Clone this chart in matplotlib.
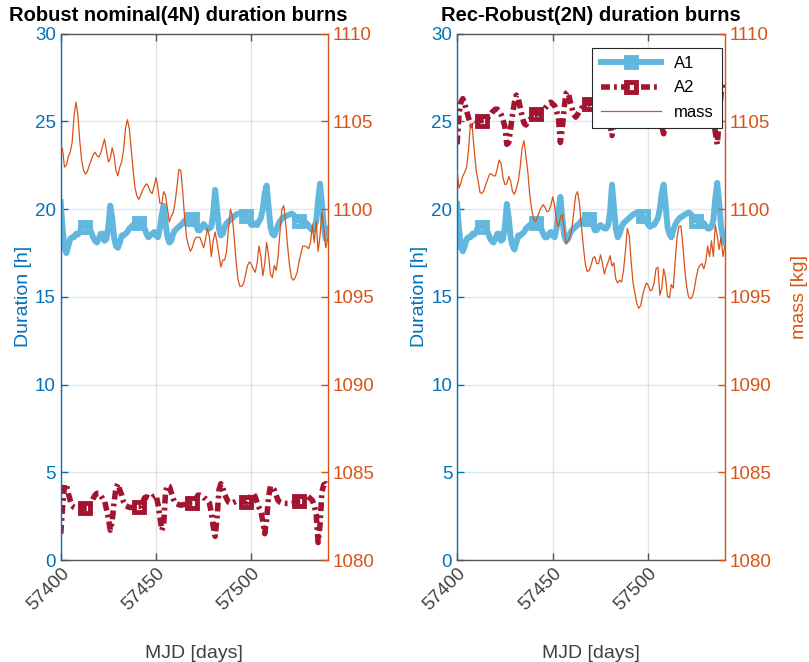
import numpy as np
import matplotlib.pyplot as plt

plt.rcParams['font.family'] = ['Liberation Sans', 'DejaVu Sans']

# daily samples, MJD 57400 .. 57540
mjd = np.arange(57400, 57541)

# --- Robust nominal (4N) ---
a1_nom = [20.4, 18.9, 17.8, 17.5, 17.9, 18.3, 18.4, 18.4, 18.6, 18.55,
          18.7, 19.0, 19.0, 19.0, 19.0, 18.9, 18.7, 18.4, 18.2, 18.1,
          18.3, 18.6, 18.6, 18.2, 18.3, 19.0, 20.2, 19.5, 18.4, 17.9,
          17.8, 18.1, 18.5, 18.5, 18.6, 18.7, 18.9, 19.0, 19.1, 19.15,
          19.2, 19.2, 19.2, 19.1, 18.9, 18.6, 18.4, 18.5, 18.6, 18.7,
          18.5, 18.4, 18.9, 19.7, 20.2, 19.2, 18.4, 18.1, 18.2, 18.6,
          18.8, 18.9, 19.0, 19.1, 19.2, 19.35, 19.4, 19.45, 19.45, 19.45,
          19.4, 19.1, 18.8, 18.8, 19.0, 19.15, 19.0, 18.9, 18.9, 19.0,
          19.8, 21.1, 20.0, 18.9, 18.5, 18.6, 19.0, 19.2, 19.3, 19.4,
          19.5, 19.6, 19.7, 19.75, 19.75, 19.75, 19.7, 19.6, 19.55, 19.3,
          19.1, 19.1, 19.2, 19.1, 19.3, 19.5, 20.0, 20.9, 21.35, 20.2,
          19.0, 18.6, 18.5, 18.8, 19.1, 19.3, 19.45, 19.55, 19.6, 19.65,
          19.7, 19.75, 19.7, 19.55, 19.45, 19.35, 19.3, 19.3, 19.25, 19.2,
          19.05, 18.9, 18.8, 19.0, 19.3, 20.5, 21.45, 20.3, 19.0, 18.3, 18.9]

a2_nom = [1.5, 3.0, 4.3, 4.3, 3.8, 3.4, 3.1, 3.0, 2.95, 3.0,
          3.0, 2.95, 2.95, 2.95, 2.95, 3.1, 3.25, 3.5, 3.7, 3.8,
          3.8, 3.7, 3.5, 3.4, 2.9, 2.4, 1.7, 2.2, 3.3, 4.1,
          4.35, 4.0, 3.7, 3.3, 3.1, 3.05, 3.0, 3.0, 3.0, 3.0,
          3.05, 3.05, 3.1, 3.3, 3.55, 3.6, 3.55, 3.5, 3.55, 3.65,
          3.7, 3.2, 2.5, 1.7, 2.0, 3.9, 4.25, 4.2, 3.85, 3.5,
          3.25, 3.2, 3.15, 3.13, 3.15, 3.17, 3.2, 3.2, 3.23, 3.23,
          3.25, 3.5, 3.7, 3.7, 3.65, 3.55, 3.5, 3.4, 3.25, 2.7,
          1.9, 1.35, 2.4, 4.0, 4.35, 4.1, 3.75, 3.5, 3.3, 3.25,
          3.25, 3.3, 3.35, 3.4, 3.42, 3.4, 3.35, 3.3, 3.3, 3.5,
          3.7, 3.8, 3.6, 3.3, 3.0, 2.8, 2.2, 1.5, 2.3, 3.6,
          4.2, 4.15, 4.0, 3.7, 3.4, 3.3, 3.25, 3.23, 3.23, 3.23,
          3.23, 3.23, 3.25, 3.28, 3.32, 3.35, 3.35, 3.45, 3.6, 3.7,
          3.6, 3.5, 3.4, 3.1, 2.6, 1.0, 2.0, 3.9, 4.3, 4.35, 4.2]

mass_nom = [1103.7, 1103.4, 1102.4, 1102.5, 1103.0, 1103.25, 1103.8, 1105.3, 1106.1, 1105.4,
            1103.9, 1102.8, 1102.2, 1102.0, 1102.15, 1102.5, 1102.8, 1103.1, 1103.25, 1103.05,
            1102.97, 1103.2, 1103.6, 1104.0, 1103.35, 1102.7, 1102.87, 1103.5, 1103.06, 1102.2,
            1101.9, 1102.4, 1102.7, 1103.4, 1104.6, 1105.1, 1104.6, 1103.4, 1102.2, 1101.2,
            1100.75, 1100.56, 1100.8, 1101.1, 1101.3, 1101.45, 1101.3, 1101.0, 1100.9, 1101.3,
            1101.8, 1101.2, 1100.35, 1100.3, 1101.0, 1100.8, 1100.0, 1099.27, 1099.6, 1099.8,
            1100.4, 1101.3, 1102.27, 1102.2, 1101.0, 1099.5, 1098.4, 1097.94, 1097.6, 1097.8,
            1098.2, 1098.4, 1098.4, 1098.4, 1098.1, 1097.8, 1098.3, 1098.9, 1098.4, 1097.3,
            1098.2, 1098.7, 1098.1, 1097.4, 1096.7, 1097.1, 1097.1, 1097.6, 1098.9, 1100.0,
            1099.6, 1098.4, 1097.0, 1096.0, 1095.6, 1095.6, 1095.8, 1096.3, 1096.8, 1097.0,
            1096.85, 1096.6, 1096.4, 1096.9, 1097.9, 1097.3, 1096.2, 1096.9, 1098.1, 1097.4,
            1096.3, 1096.1, 1096.8, 1096.5, 1097.3, 1098.7, 1100.0, 1100.2, 1099.2, 1097.9,
            1096.8, 1096.1, 1095.95, 1096.1, 1096.4, 1097.0, 1097.5, 1097.9, 1097.9, 1097.85,
            1097.75, 1098.1, 1099.1, 1098.1, 1099.3, 1097.6, 1098.5, 1099.8, 1098.9, 1097.8, 1098.3]

# --- Rec-Robust (2N) ---
a1_rec = [20.3, 18.9, 17.8, 17.6, 17.9, 18.3, 18.4, 18.4, 18.6, 18.55,
          18.7, 19.0, 19.0, 19.0, 19.0, 18.9, 18.7, 18.4, 18.2, 18.1,
          18.3, 18.6, 18.6, 18.2, 18.3, 19.0, 20.3, 19.5, 18.4, 17.9,
          17.7, 18.1, 18.5, 18.5, 18.6, 18.7, 18.9, 19.0, 19.1, 19.15,
          19.2, 19.2, 19.2, 19.1, 18.9, 18.6, 18.4, 18.4, 18.6, 18.7,
          18.5, 18.4, 18.9, 19.9, 20.7, 19.5, 18.5, 18.2, 18.3, 18.6,
          18.8, 18.9, 19.0, 19.1, 19.2, 19.35, 19.4, 19.45, 19.45, 19.45,
          19.4, 19.1, 18.8, 18.8, 19.0, 19.1, 19.0, 18.9, 18.9, 19.1,
          19.9, 21.4, 20.1, 18.9, 18.4, 18.6, 19.0, 19.2, 19.3, 19.4,
          19.5, 19.6, 19.7, 19.75, 19.8, 19.8, 19.75, 19.6, 19.5, 19.3,
          19.1, 19.0, 19.1, 19.1, 19.3, 19.5, 20.0, 20.9, 21.4, 20.3,
          19.0, 18.6, 18.4, 18.8, 19.1, 19.3, 19.45, 19.55, 19.6, 19.7,
          19.75, 19.8, 19.75, 19.6, 19.45, 19.35, 19.3, 19.3, 19.25, 19.2,
          19.05, 18.9, 18.9, 19.0, 19.4, 20.6, 21.5, 20.4, 19.0, 18.4, 18.1]

a2_rec = [23.7, 25.4, 26.1, 26.3, 26.0, 25.6, 25.2, 24.9, 24.75, 24.75,
          24.9, 25.0, 25.05, 25.05, 25.05, 25.1, 25.2, 25.35, 25.5, 25.6,
          25.7, 25.7, 25.6, 25.4, 25.1, 24.7, 23.7, 23.8, 24.6, 25.4,
          26.1, 26.5, 26.3, 25.8, 25.3, 24.9, 24.8, 25.0, 25.1, 25.2,
          25.35, 25.4, 25.45, 25.5, 25.55, 25.6, 25.75, 25.9, 26.05, 26.1,
          26.0, 25.9, 25.6, 25.2, 23.8, 24.6, 25.8, 26.6, 26.7, 26.2,
          25.8, 25.4, 25.25, 25.4, 25.6, 25.75, 25.85, 25.9, 26.0, 26.0,
          26.05, 26.1, 26.2, 26.3, 26.2, 26.1, 26.0, 25.9, 25.7, 25.3,
          24.8, 24.2, 24.9, 26.0, 26.6, 26.7, 26.3, 25.9, 25.7, 25.7,
          25.8, 25.9, 26.0, 26.05, 26.1, 26.1, 26.1, 26.15, 26.2, 26.3,
          26.4, 26.4, 26.3, 26.1, 25.9, 25.6, 25.2, 24.7, 24.3, 25.1,
          26.2, 26.8, 26.8, 26.4, 26.0, 25.8, 25.8, 25.9, 26.0, 26.1,
          26.15, 26.2, 26.2, 26.25, 26.3, 26.3, 26.3, 26.4, 26.5, 26.6,
          26.5, 26.3, 26.1, 25.7, 25.2, 24.4, 23.7, 25.0, 26.6, 27.2, 27.0]

mass_rec = [1102.25, 1101.2, 1101.5, 1101.9, 1102.1, 1102.4, 1103.4, 1104.9, 1104.6, 1103.3,
            1102.2, 1101.6, 1100.95, 1100.9, 1101.05, 1101.4, 1101.7, 1102.0, 1102.0, 1101.9,
            1101.9, 1102.3, 1102.8, 1102.6, 1101.8, 1101.4, 1101.45, 1101.87, 1101.6, 1101.0,
            1100.85, 1101.2, 1101.6, 1102.4, 1103.5, 1103.9, 1103.0, 1102.1, 1100.8, 1100.0,
            1099.45, 1099.3, 1099.55, 1099.85, 1100.1, 1100.26, 1100.1, 1099.85, 1099.9, 1100.2,
            1100.7, 1100.2, 1099.3, 1099.0, 1099.5, 1099.7, 1098.9, 1098.0, 1098.2, 1098.4,
            1098.9, 1099.8, 1100.8, 1101.0, 1100.3, 1099.0, 1097.9, 1096.9, 1096.45, 1096.5,
            1096.8, 1097.2, 1097.3, 1096.9, 1096.9, 1097.4, 1096.9, 1096.3, 1096.7, 1097.0,
            1097.35, 1096.75, 1096.94, 1096.0, 1095.8, 1095.95, 1095.85, 1096.5, 1097.6, 1098.9,
            1098.5, 1097.0, 1095.8, 1095.2, 1094.6, 1094.35, 1094.5, 1095.1, 1095.5, 1095.8,
            1095.65, 1095.35, 1095.4, 1095.8, 1096.6, 1096.7, 1095.1, 1095.5, 1096.6, 1096.1,
            1095.04, 1094.95, 1095.7, 1095.5, 1097.0, 1098.4, 1099.0, 1099.05, 1098.0, 1096.6,
            1095.6, 1095.0, 1094.9, 1095.0, 1095.45, 1096.1, 1096.6, 1096.8, 1096.9, 1096.6,
            1097.0, 1097.9, 1097.3, 1098.2, 1097.3, 1099.1, 1098.5, 1097.7, 1098.4, 1097.3, 1097.9]

titles = ['Robust nominal(4N) duration burns', 'Rec-Robust(2N) duration burns']

c_left = '#0072BD'
c_right = '#D95319'
c_a1 = '#62B7DF'
c_a2 = '#A2142F'
c_axis = '#404040'

fig = plt.figure(figsize=(8.09, 6.62), dpi=100)
positions = [[0.075, 0.154, 0.330, 0.795], [0.565, 0.154, 0.331, 0.795]]
panels = [(a1_nom, a2_nom, mass_nom), (a1_rec, a2_rec, mass_rec)]

for i, (a1, a2, mass) in enumerate(panels):
    ax = fig.add_axes(positions[i])
    ax2 = ax.twinx()

    l1, = ax.plot(mjd, a1, color=c_a1, lw=4.3, marker='s', ms=7, mfc='none',
                  mew=3.5, markevery=(13, 28), label='A1')
    l2, = ax.plot(mjd, a2, color=c_a2, lw=4.0, dashes=(1.6, 0.75, 0.5, 0.75),
                  marker='s', ms=7, mfc='none', mew=3.5, markevery=(13, 28), label='A2')
    l3, = ax2.plot(mjd, mass, color=c_right, lw=0.9, label='mass')

    ax.set_xlim(57400, 57540)
    ax.set_ylim(0, 30)
    ax2.set_ylim(1080, 1110)
    ax.set_xticks([57400, 57450, 57500])
    ax.set_yticks([0, 5, 10, 15, 20, 25, 30])
    ax2.set_yticks([1080, 1085, 1090, 1095, 1100, 1105, 1110])

    # grid: horizontal follows the left axis colour, vertical is grey
    ax.yaxis.grid(True, color=c_left, alpha=0.15, lw=1)
    ax.xaxis.grid(True, color='#262626', alpha=0.12, lw=1)
    ax.set_axisbelow(True)

    ax.tick_params(axis='x', direction='in', top=True, length=5, width=1,
                   color='#555555', labelcolor=c_axis, labelsize=13.5, labelrotation=45)
    for lab in ax.get_xticklabels():
        lab.set_ha('right')
        lab.set_rotation_mode('anchor')
    ax.tick_params(axis='y', direction='in', length=5, width=1, color=c_left,
                   labelcolor=c_left, labelsize=13.5)
    ax2.tick_params(axis='y', direction='in', length=5, width=1, color=c_right,
                    labelcolor=c_right, labelsize=13.5)

    ax.spines['left'].set_color(c_left)
    ax.spines['right'].set_visible(False)
    ax.spines['top'].set_color('#555555')
    ax.spines['bottom'].set_color('#555555')
    for s in ['left', 'top', 'bottom']:
        ax2.spines[s].set_visible(False)
    ax2.spines['right'].set_color(c_right)
    for s in ax.spines.values():
        s.set_linewidth(1)
    ax2.spines['right'].set_linewidth(1)

    ax.set_xlabel('MJD [days]', fontsize=14, color=c_axis, labelpad=22)
    ax.set_ylabel('Duration [h]', fontsize=14, color=c_left, labelpad=2)
    if i == 0:
        ax.set_title(titles[i], fontsize=14.5, fontweight='bold', pad=9, x=0.44)
    else:
        ax.set_title(titles[i], fontsize=14.5, fontweight='bold', pad=9)
        ax2.set_ylabel('mass [kg]', fontsize=14, color=c_right, labelpad=14)
        leg = ax2.legend([l1, l2, l3], ['A1', 'A2', 'mass'], loc='upper right',
                         bbox_to_anchor=(0.99, 0.973), borderaxespad=0, fontsize=12,
                         handlelength=3.6, labelspacing=0.55, borderpad=0.5,
                         fancybox=False, framealpha=1, edgecolor='#262626')
        leg.get_frame().set_linewidth(0.8)

plt.savefig('out.png', dpi=100)
